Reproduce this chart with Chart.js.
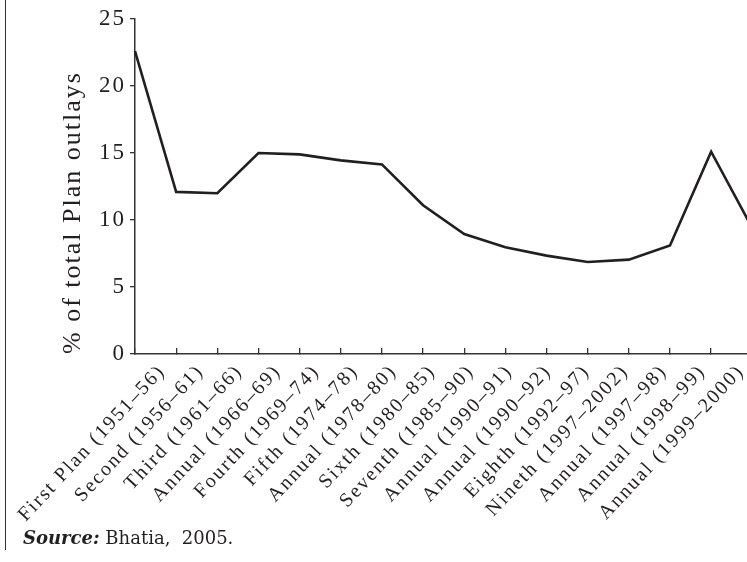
<!DOCTYPE html>
<html><head><meta charset="utf-8">
<script src="https://cdn.jsdelivr.net/npm/chart.js@4.4.1/dist/chart.umd.min.js"></script>
<style>
html,body{margin:0;padding:0;overflow:hidden;background:#fff;width:747px;height:562px;}
#wrap{position:relative;width:747px;height:562px;overflow:hidden;}
canvas{position:absolute;left:0;top:0;}
#frame{position:absolute;left:5px;top:0;width:0;height:550px;border-left:1.5px solid #333;}
#src{position:absolute;left:23px;top:527px;font-family:'DejaVu Serif';font-size:18px;color:#231f20;white-space:pre;}
#src b{font-style:italic;}
</style></head><body>
<div id="wrap"><canvas id="c" width="760" height="562"></canvas><div id="frame"></div><div id="src"><b>Source:</b> Bhatia,  2005.</div></div>
<script>
const categories = [
  'First Plan (1951–56)', 'Second (1956–61)', 'Third (1961–66)', 'Annual (1966–69)',
  'Fourth (1969–74)', 'Fifth (1974–78)', 'Annual (1978–80)', 'Sixth (1980–85)',
  'Seventh (1985–90)', 'Annual (1990–91)', 'Annual (1990–92)', 'Eighth (1992–97)',
  'Nineth (1997–2002)', 'Annual (1997–98)', 'Annual (1998–99)', 'Annual (1999–2000)'
];
const sharePct = [22.6, 12.1, 12.0, 15.0, 14.9, 14.45, 14.15, 11.1, 8.95, 7.96, 7.34, 6.87, 7.04, 8.1, 15.1, 9.4];
const yTickValues = [0, 5, 10, 15, 20, 25];
const yTitle = '% of total Plan outlays';

const INK = '#231f20';
const spacing = {
  id: 'spacing',
  beforeUpdate(c) { c.ctx.letterSpacing = '2px'; },
  beforeDraw(c) { c.ctx.letterSpacing = '2px'; }
};

new Chart(document.getElementById('c'), {
  type: 'line',
  data: {
    labels: categories,
    datasets: [{
      data: sharePct,
      borderColor: INK,
      borderWidth: 2.6,
      pointRadius: 0,
      tension: 0,
      fill: false,
      xAxisID: 'x',
      yAxisID: 'y'
    }]
  },
  plugins: [spacing],
  options: {
    responsive: false,
    animation: false,
    layout: { padding: { top: 19, right: 7.7, bottom: 0, left: 0 } },
    plugins: { legend: { display: false }, tooltip: { enabled: false } },
    scales: {
      x: {
        type: 'category',
        offset: false,
        weight: 0,
        ticks: { display: false },
        grid: { drawOnChartArea: false, drawTicks: true, tickLength: -6, color: '#333', lineWidth: 1.3 },
        border: { display: true, color: '#333', width: 1.5 },
        afterFit(s) { s.height = 0; s.paddingLeft = 0; s.paddingRight = 0; }
      },
      x2: {
        type: 'linear',
        position: 'bottom',
        weight: 1,
        min: -0.6995,
        max: 15.292,
        ticks: {
          stepSize: 1, autoSkip: false, minRotation: 47, maxRotation: 47, includeBounds: false, padding: 0,
          font: { family: 'Liberation Serif', size: 20 }, color: INK,
          callback: (v) => (Number.isInteger(v) && categories[v] !== undefined) ? categories[v] : ''
        },
        grid: { display: false, drawTicks: true, tickLength: 6 },
        border: { display: false },
        afterFit(s) { s.height = 208; s.paddingLeft = 0; s.paddingRight = 0; }
      },
      y: {
        min: yTickValues[0],
        max: yTickValues[yTickValues.length - 1],
        afterBuildTicks(s) { s.ticks = yTickValues.map(v => ({ value: v })); },
        ticks: { stepSize: 5, font: { family: 'Liberation Serif', size: 23 }, color: INK, padding: 4 },
        grid: { drawOnChartArea: false, drawTicks: true, tickLength: 5, color: '#333', lineWidth: 1.3 },
        border: { display: true, color: '#333', width: 1.5 },
        title: {
          display: true, text: yTitle, align: 'start', color: INK,
          font: { family: 'Liberation Serif', size: 26 }, padding: { top: 58, bottom: 0 }
        },
        afterFit(s) { s.width = 135; }
      }
    }
  }
});
</script>
</body></html>
